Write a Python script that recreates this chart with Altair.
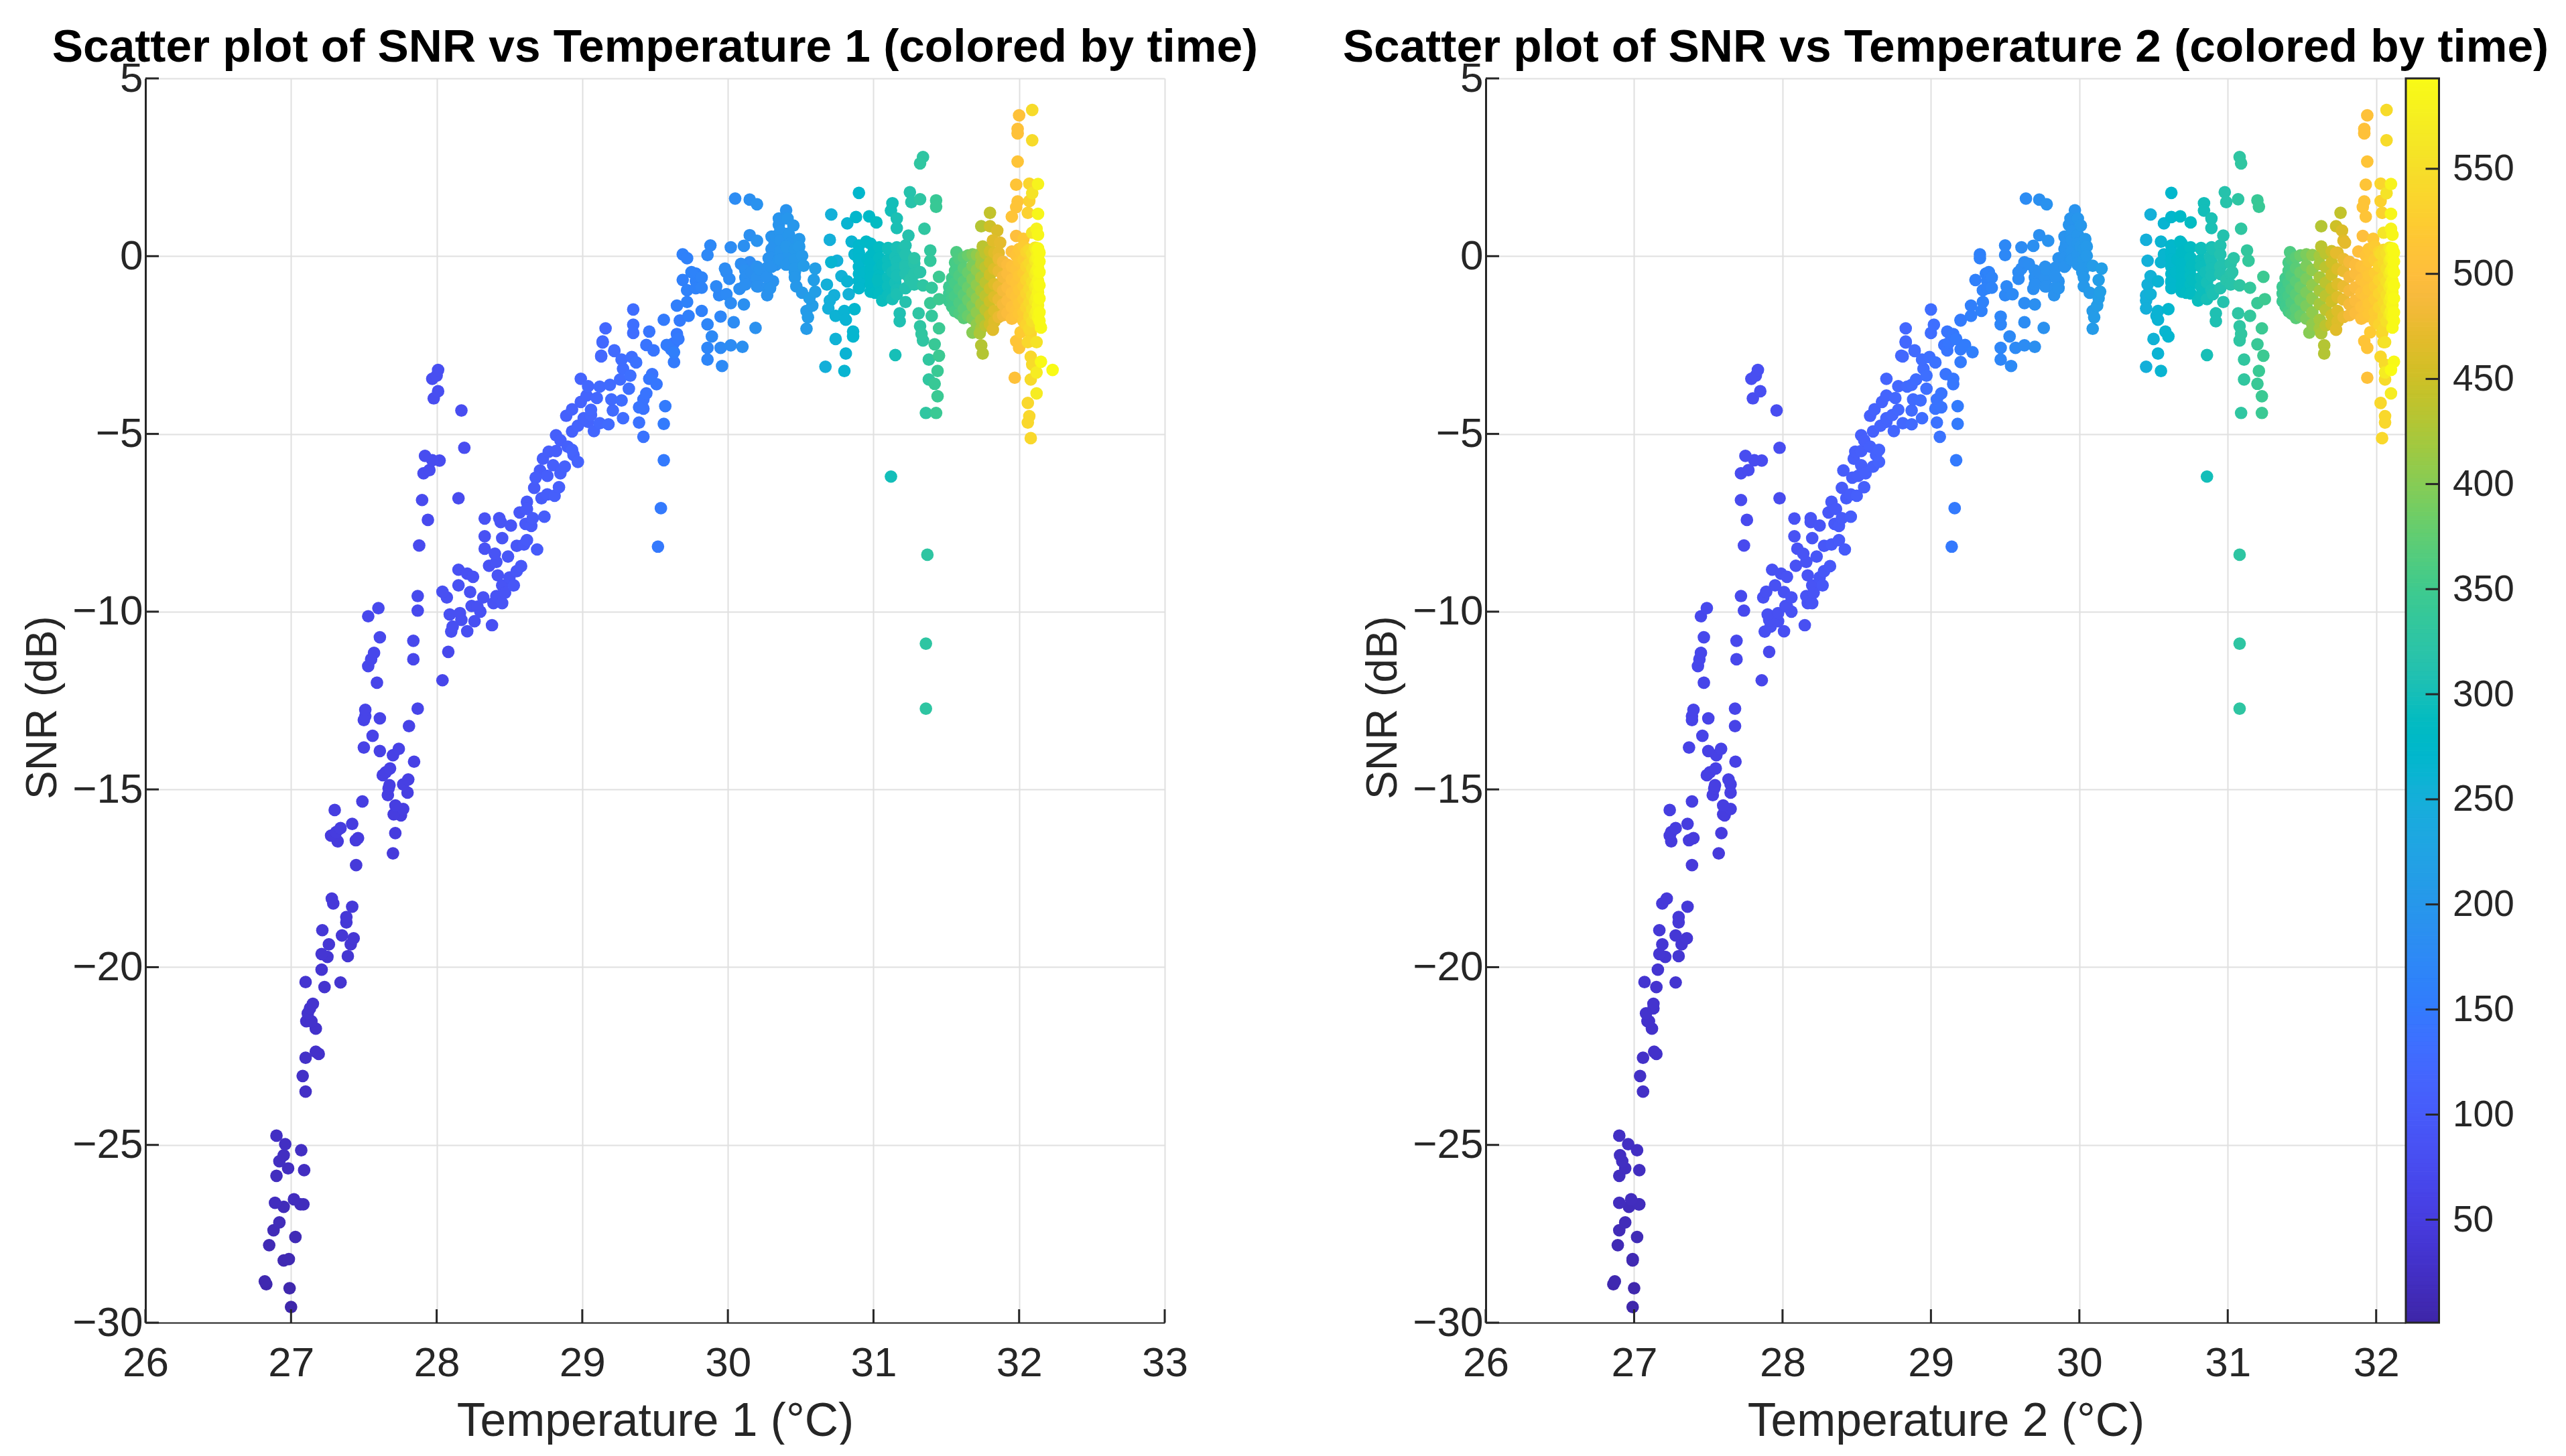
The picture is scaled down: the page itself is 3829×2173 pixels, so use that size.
import altair as alt
import pandas as pd

FONT = "Liberation Sans"
INK = "#262626"
GRID = "#e0e0e0"

parula_rgb = [(.2422,.1504,.6603),(.2504,.1650,.7076),(.2578,.1818,.7511),(.2647,.1978,.7952),(.2706,.2147,.8364),(.2751,.2342,.8710),(.2783,.2559,.8991),(.2803,.2782,.9221),(.2813,.3006,.9414),(.2810,.3228,.9579),(.2795,.3447,.9717),(.2760,.3667,.9829),(.2699,.3892,.9906),(.2602,.4123,.9952),(.2440,.4358,.9988),(.2206,.4603,.9973),(.1963,.4847,.9892),(.1834,.5074,.9798),(.1786,.5289,.9682),(.1764,.5499,.9520),(.1687,.5703,.9359),(.1540,.5902,.9218),(.1460,.6091,.9079),(.1380,.6276,.8973),(.1248,.6459,.8883),(.1113,.6635,.8763),(.0952,.6798,.8598),(.0689,.6948,.8394),(.0297,.7082,.8163),(.0036,.7203,.7917),(.0067,.7312,.7660),(.0433,.7411,.7394),(.0964,.7500,.7120),(.1408,.7584,.6842),(.1717,.7670,.6554),(.1938,.7758,.6251),(.2161,.7843,.5923),(.2470,.7918,.5567),(.2906,.7973,.5188),(.3406,.8008,.4789),(.3909,.8029,.4354),(.4456,.8024,.3909),(.5044,.7993,.3480),(.5616,.7942,.3045),(.6174,.7876,.2612),(.6720,.7793,.2227),(.7242,.7698,.1910),(.7738,.7598,.1646),(.8203,.7498,.1535),(.8634,.7406,.1596),(.9035,.7330,.1774),(.9393,.7288,.2100),(.9728,.7298,.2394),(.9956,.7434,.2371),(.9970,.7659,.2199),(.9952,.7861,.1991),(.9892,.8134,.1885),(.9786,.8386,.1766),(.9676,.8639,.1643),(.9610,.8890,.1537),(.9597,.9135,.1423),(.9628,.9373,.1265),(.9691,.9606,.1064),(.9769,.9839,.0805)]
parula = ["#%02x%02x%02x" % tuple(round(c*255) for c in rgb) for rgb in parula_rgb]

# ---- lower climb and the left-hand column
a_snr = [-29.56,-29.03,-28.92,-28.84,-28.25,-28.21,-27.82,-27.59,-27.40,-27.18,-26.74,-26.67,-26.67,-26.63,-26.53,-25.87,-25.71,-25.66,-25.46,-25.29,-25.15,-24.98,-24.74,-23.50,-23.06,-22.55,-22.44,-22.38,-21.73,-21.52,-21.52,-21.30,-21.16,-21.03,-20.56,-20.43,-20.42,-20.07,-19.71,-19.69,-19.63,-19.36,-19.36,-19.19,-19.11,-18.96,-18.74,-18.59,-18.30,-18.21,-18.07,-17.13,-16.80,-16.46,-16.43,-16.37,-16.30,-16.23,-16.20,-16.09,-15.97,-15.73,-15.70,-15.58,-15.55,-15.45,-15.34,-15.16,-15.09,-14.97,-14.88,-14.86,-14.72,-14.60,-14.52,-14.41,-14.22,-14.04,-13.92,-13.86,-13.82,-13.49,-13.22,-13.05,-13.00,-12.94,-12.76,-12.73,-12.00,-11.93,-11.53,-11.34,-11.34,-11.16,-11.13,-10.82,-10.72,-10.13,-9.97,-9.90,-9.56,-8.14,-7.42,-6.86,-6.81,-6.11,-6.02,-5.75,-5.74,-5.62,-5.39,-4.34,-4.00,-3.80,-3.45,-3.36,-3.20]
a_t1 = [27.00,26.99,26.83,26.82,26.95,26.985,26.85,27.03,26.88,26.92,26.95,27.065,27.085,26.89,27.02,26.90,27.09,26.98,26.92,26.95,27.07,26.96,26.90,27.10,27.08,27.10,27.19,27.17,27.17,27.105,27.14,27.115,27.13,27.15,27.23,27.34,27.10,27.21,27.25,27.39,27.21,27.41,27.26,27.43,27.35,27.215,27.38,27.38,27.42,27.29,27.28,27.447,27.70,27.32,27.445,27.46,27.275,27.716,27.31,27.34,27.42,27.755,27.705,27.30,27.77,27.717,27.49,27.665,27.80,27.67,27.676,27.77,27.805,27.63,27.65,27.68,27.845,27.70,27.61,27.74,27.50,27.56,27.81,27.50,27.61,27.51,27.51,27.87,27.59,28.04,27.53,27.84,27.55,27.57,28.08,27.84,27.61,27.53,27.87,27.60,27.87,27.88,27.94,27.90,28.15,27.91,27.95,28.02,27.97,27.92,28.19,28.17,27.98,28.01,27.97,28.00,28.01]
a_t2 = [26.99,27.00,26.86,26.87,26.99,26.99,26.89,27.02,26.90,26.94,26.965,27.035,27.03,26.90,26.98,26.90,27.035,26.94,26.92,26.905,27.02,26.96,26.90,27.06,27.04,27.06,27.15,27.135,27.12,27.09,27.10,27.08,27.13,27.13,27.15,27.28,27.07,27.16,27.21,27.30,27.17,27.32,27.19,27.355,27.28,27.17,27.30,27.30,27.36,27.19,27.22,27.39,27.57,27.25,27.37,27.40,27.24,27.588,27.25,27.28,27.36,27.61,27.60,27.24,27.65,27.60,27.39,27.53,27.65,27.54,27.545,27.65,27.636,27.49,27.51,27.55,27.683,27.554,27.50,27.586,27.37,27.46,27.68,27.39,27.50,27.39,27.40,27.68,27.47,27.86,27.43,27.69,27.44,27.45,27.91,27.69,27.47,27.45,27.74,27.49,27.72,27.74,27.76,27.72,27.98,27.72,27.77,27.86,27.81,27.75,27.98,27.96,27.80,27.85,27.79,27.82,27.834]
a_time = [3,5,6,7,9,10,11,12,13,14,15,16,17,18,18,19,20,20,21,21,22,22,23,25,26,27,28,28,29,30,30,31,31,32,33,34,34,35,36,36,37,37,38,38,39,40,40,41,42,43,43,44,45,46,46,47,47,48,48,49,49,50,50,51,51,52,52,53,53,54,54,55,55,56,56,57,57,58,58,59,59,60,60,61,61,62,62,63,64,65,66,66,67,67,68,68,69,69,70,70,71,72,72,73,73,74,74,75,75,76,76,77,77,78,78,79,79]

# ---- main rising branch
b_snr = [-10.55,-10.56,-10.42,-10.38,-10.27,-10.23,-10.08,-10.04,-10.00,-9.84,-9.86,-9.76,-9.76,-9.60,-9.56,-9.60,-9.44,-9.45,-9.47,-9.26,-9.26,-9.26,-9.02,-8.98,-9.04,-8.93,-8.82,-8.86,-8.72,-8.71,-8.60,-8.45,-8.37,-8.23,-8.25,-8.15,-8.11,-7.99,-7.88,-7.93,-7.59,-7.58,-7.53,-7.48,-7.37,-7.38,-7.37,-7.33,-7.21,-7.11,-6.91,-6.81,-6.74,-6.70,-6.52,-6.50,-6.18,-6.23,-6.03,-6.11,-5.92,-5.88,-5.79,-5.70,-5.50,-5.48,-5.45,-5.59,-5.36,-5.18,-5.04,-4.93,-4.92,-4.73,-4.77,-4.66,-4.70,-4.56,-4.68,-5.08,-4.72,-4.22,-5.74,-7.09,-8.17,-4.49,-4.31,-4.47,-4.56,-4.10,-4.32,-4.34,-3.92,-3.99,-4.06,-4.03,-4.29,-4.25,-4.03,-3.86,-3.73,-3.45,-3.66,-3.67,-3.62,-3.47,-3.36,-3.32,-3.45,-3.60,-3.17,-2.82,-2.43,-2.67,-2.84,-2.91,-2.99]
b_t1 = [28.21,28.10,28.11,28.38,28.26,28.17,28.09,28.16,28.30,28.24,28.28,28.39,28.45,28.32,28.41,28.07,28.04,28.23,28.47,28.15,28.53,28.45,28.25,28.42,28.50,28.21,28.15,28.55,28.58,28.36,28.41,28.49,28.40,28.33,28.69,28.55,28.60,28.62,28.33,28.45,28.65,28.51,28.61,28.44,28.43,28.33,28.66,28.74,28.57,28.62,28.62,28.72,28.81,28.76,28.67,28.84,28.76,28.68,28.71,28.85,28.88,28.80,28.97,28.73,28.77,28.82,28.93,28.94,28.90,28.85,28.82,28.93,29.08,29.18,28.97,29.04,29.12,29.28,29.39,29.42,29.56,29.57,29.56,29.54,29.52,28.89,28.93,29.06,29.01,28.99,29.06,29.21,29.03,29.10,29.27,29.20,29.42,29.39,29.42,29.44,29.32,28.99,29.04,29.12,29.19,29.26,29.33,29.48,29.46,29.51,29.28,29.13,29.14,29.22,29.34,29.27,29.37]
b_t2 = [28.01,27.88,27.92,28.15,27.97,27.91,27.90,27.97,28.06,28.02,28.03,28.17,28.20,28.06,28.16,27.87,27.89,28.01,28.21,27.95,28.27,28.20,28.03,28.17,28.25,27.99,27.93,28.28,28.32,28.09,28.16,28.23,28.14,28.10,28.42,28.28,28.33,28.38,28.08,28.20,28.38,28.25,28.35,28.19,28.19,28.08,28.40,28.46,28.31,28.36,28.33,28.43,28.50,28.46,28.40,28.55,28.51,28.47,28.41,28.56,28.61,28.53,28.65,28.48,28.49,28.53,28.65,28.63,28.59,28.55,28.53,28.61,28.75,28.87,28.66,28.70,28.81,28.94,29.04,29.06,29.18,29.18,29.17,29.16,29.14,28.59,28.62,28.74,28.70,28.67,28.78,28.87,28.70,28.76,28.93,28.88,29.03,29.07,29.04,29.07,28.97,28.70,28.78,28.84,28.87,28.90,28.97,29.10,29.15,29.15,28.95,28.81,28.83,28.89,28.99,28.94,29.03]
b_time = [80,80,81,82,81,81,81,82,84,83,84,86,88,85,87,82,82,84,89,83,92,88,85,87,91,84,83,93,95,86,88,92,88,86,100,93,96,98,86,89,98,91,96,89,89,86,99,103,94,97,96,101,106,103,99,107,105,103,101,108,110,106,113,104,105,106,113,112,109,107,106,110,119,126,113,116,122,130,137,139,150,150,149,148,147,109,111,118,116,114,120,126,116,120,130,126,138,140,138,140,132,116,120,124,126,128,132,141,144,144,130,121,122,126,133,130,137]

# ---- plateau, temperature 1 up to about 30.6
c_snr = [-1.50,-1.93,-2.16,-2.03,-2.40,-2.80,-2.65,-2.12,-1.79,-2.50,-2.65,-2.50,-2.70,0.05,-0.06,0.30,0.03,-0.45,-0.67,-0.60,-0.49,-0.89,-0.96,-0.85,-1.07,-1.10,-1.32,-1.36,-1.39,-1.29,-1.54,-1.68,-1.81,-1.92,-1.70,-1.86,-2.02,-2.26,-2.58,-2.91,-2.58,-2.51,-2.55,-3.09,-2.19,-2.44,-2.33,-2.98,-2.62,1.62,1.59,1.46,1.29,1.06,1.06,0.88,0.86,0.59,0.43,0.25,0.29,0.56,0.63,0.48,0.34,0.27,0.27,-0.06,-0.09,0.01,-0.24,-0.24,-0.22,-0.17,-0.35,-0.45,-0.64,-0.45,-0.38,-0.27,-0.35,-0.45,-0.67,-0.56,-0.71,-0.71,-0.92,-0.85,-0.90,-1.10,-0.85,-1.03,-1.00,-1.18,-1.39,-1.54,-1.72,-2.04]
c_t1 = [29.35,29.35,29.35,29.16,29.14,29.13,29.22,29.46,29.56,29.44,29.49,29.58,29.63,29.69,29.72,29.88,29.86,29.75,29.69,29.82,29.78,29.82,29.72,29.92,29.99,29.94,30.02,30.11,29.65,29.72,29.82,29.73,29.67,29.86,29.95,30.04,30.19,29.89,29.86,29.86,29.95,30.02,30.10,29.96,29.65,29.63,29.66,29.63,29.61,30.05,30.15,30.20,30.40,30.35,30.41,30.35,30.45,30.15,30.20,30.02,30.11,30.33,30.41,30.49,30.32,30.40,30.49,30.28,30.35,30.51,30.40,30.33,30.09,30.15,29.98,29.99,30.01,30.16,30.22,30.52,30.60,30.46,30.59,30.25,30.31,30.13,30.08,30.21,30.29,30.27,30.47,30.51,30.60,30.56,30.58,30.54,30.55,30.54]
c_t2 = [29.00,29.02,29.00,28.83,28.83,28.80,28.89,29.11,29.20,29.09,29.11,29.23,29.28,29.33,29.33,29.50,29.50,29.39,29.30,29.41,29.37,29.41,29.35,29.51,29.55,29.50,29.63,29.70,29.27,29.35,29.34,29.27,29.20,29.47,29.47,29.63,29.76,29.53,29.47,29.47,29.57,29.63,29.70,29.54,29.15,29.12,29.17,29.20,29.20,29.64,29.73,29.78,29.97,29.94,29.99,29.93,30.01,29.73,29.79,29.61,29.69,29.94,29.95,30.04,29.91,30.01,30.05,29.86,29.94,30.05,29.99,29.91,29.66,29.63,29.61,29.59,29.59,29.73,29.78,30.09,30.15,30.02,30.13,29.81,29.86,29.71,29.69,29.78,29.86,29.83,30.03,30.07,30.14,30.13,30.12,30.09,30.10,30.09]
c_time = [130,132,130,120,120,118,124,142,150,140,142,152,156,160,160,172,172,164,158,166,163,166,162,173,176,172,180,186,156,162,161,156,150,168,168,180,188,174,168,168,176,180,186,175,146,143,148,150,150,180,186,190,192,194,196,193,198,186,190,179,185,194,195,200,192,198,202,190,194,202,196,192,182,180,179,177,177,186,190,207,214,200,212,188,190,184,183,189,192,191,201,205,213,212,211,208,209,208]

# ---- temperature 1 from about 30.7 to 31.45
d_snr = [1.17,1.78,0.92,1.10,1.12,0.95,1.49,1.28,1.06,0.79,0.58,1.80,1.52,1.60,1.57,1.39,0.77,2.79,2.61,0.46,0.41,0.41,0.23,0.19,0.16,-0.13,-0.06,-0.13,-0.17,0.05,0.12,-0.02,-0.09,-0.24,-0.24,-0.45,-0.45,-0.45,-0.58,-0.56,-0.71,-0.80,-0.74,-0.67,-0.74,-0.67,-0.82,-0.89,-1.03,-1.07,-1.10,-1.25,-1.21,-1.07,-1.29,-1.21,-1.32,-1.25,-1.47,-1.49,-1.54,-1.68,-1.79,-1.61,-1.83,-1.61,-1.68,-1.97,-2.03,-2.19,-2.37,-2.12,-2.26,-2.33,-2.74,-3.11,-3.23,-2.78,-2.48,-2.80,-2.91,-3.23,-3.47,-3.59,-3.94,-4.41,-4.41,-6.20,-8.40,-10.90,-12.73]
d_t1 = [30.71,30.90,30.82,30.88,30.97,31.02,31.13,31.12,31.16,31.16,31.24,31.25,31.26,31.32,31.43,31.43,31.35,31.34,31.32,30.70,30.85,30.95,31.10,31.20,31.39,31.39,31.28,30.75,30.71,30.87,31.00,31.15,30.96,31.06,31.22,31.32,30.94,31.13,31.45,30.78,30.82,30.68,30.92,31.03,31.15,31.25,31.34,31.40,31.01,30.83,30.73,31.06,31.13,31.16,31.22,31.45,31.39,30.70,30.69,30.87,30.80,30.74,30.81,31.18,31.18,31.31,31.40,31.32,31.45,31.33,31.34,30.86,30.86,30.74,30.81,30.67,30.80,31.15,31.42,31.45,31.38,31.44,31.38,31.42,31.44,31.36,31.43,31.12,31.37,31.36,31.36]
d_t2 = [30.48,30.62,30.57,30.62,30.68,30.75,30.84,30.84,30.89,30.89,30.97,30.98,30.99,31.07,31.20,31.21,31.09,31.08,31.09,30.45,30.55,30.68,30.82,30.90,31.13,31.14,31.04,30.46,30.55,30.57,30.69,30.88,30.66,30.76,30.96,31.03,30.65,30.85,31.24,30.48,30.53,30.46,30.62,30.76,30.86,30.99,31.08,31.15,30.72,30.48,30.45,30.80,30.86,30.90,30.97,31.25,31.20,30.45,30.45,30.60,30.53,30.52,30.53,30.92,30.92,31.07,31.15,31.08,31.23,31.09,31.08,30.58,30.60,30.50,30.53,30.45,30.55,30.86,31.20,31.24,31.11,31.21,31.11,31.20,31.23,31.09,31.23,30.86,31.08,31.08,31.08]
d_time = [252,270,262,270,278,285,298,298,304,304,312,314,316,325,340,341,328,327,328,250,262,278,295,305,332,333,320,252,262,265,280,302,275,287,310,318,273,298,345,254,260,252,270,287,300,316,326,334,282,254,250,292,300,305,312,346,340,250,250,268,260,258,260,307,307,324,334,326,344,328,327,264,266,256,260,250,262,300,340,345,330,342,330,340,344,328,343,298,326,326,326]

# ---- colour-smeared columns near the end of the run, and the denser plateau blobs
e_t1 = [29.78,30.12,30.20,30.27,30.30,30.36,30.42,30.46,30.90,30.98,31.04,31.10,31.16,31.22,31.28,31.52,31.54,31.56,31.59,31.62,31.65,31.68,31.71,31.74,31.77,31.80,31.83,31.86,31.89,31.92,31.95,31.98,32.00,32.03,32.05,32.07,32.09,32.11,32.12,32.13,32.14]
e_t2 = [29.38,29.70,29.77,29.84,29.90,29.95,29.99,30.03,30.62,30.69,30.75,30.82,30.89,30.95,31.02,31.37,31.39,31.41,31.43,31.46,31.49,31.53,31.57,31.62,31.66,31.70,31.74,31.78,31.82,31.86,31.90,31.93,31.95,31.99,32.02,32.05,32.07,32.09,32.10,32.11,32.12]
e_time = [163,185,188,190,192,195,197,200,270,278,285,293,302,310,316,345,350,355,362,370,380,392,405,420,435,450,462,475,486,495,502,508,514,522,532,542,552,565,575,583,590]
e_snr = [
    [-0.50,-0.70,-0.90],
    [-0.40,-0.60,-0.80],
    [-0.30,-0.60,-0.85],
    [-0.32,-0.58,-0.88],
    [0.55,0.20,-0.05,-0.30],
    [0.70,0.45,0.15,-0.10],
    [0.60,0.35,0.05,-0.20],
    [0.20,-0.10,-0.35,-0.60],
    [0.30,0.10,-0.10,-0.30,-0.50,-0.70,-0.90],
    [0.35,0.00,-0.20,-0.40,-0.60,-0.80,-1.00],
    [0.25,-0.05,-0.35,-0.55,-0.80,-1.05],
    [0.20,-0.10,-0.30,-0.60,-0.85,-1.10],
    [0.25,-0.15,-0.35,-0.55,-0.95],
    [0.30,0.05,-0.30,-0.50,-0.90],
    [-0.20,-0.50,-0.80],
    [-0.86,-1.05,-1.27],
    [-0.62,-0.98,-1.18,-1.42],
    [-0.18,-0.41,-0.76,-1.12,-1.55],
    [-0.08,-0.55,-0.93,-1.31,-1.62],
    [-0.03,-0.34,-0.71,-1.08,-1.49,-1.74],
    [0.02,-0.46,-0.88,-1.23,-1.68],
    [0.05,-0.27,-0.64,-1.02,-1.40,-1.76],
    [0.03,-0.39,-0.81,-1.19,-1.58,-1.92],
    [0.01,-0.22,-0.60,-0.97,-1.35,-1.79,-2.03],
    [0.08,-0.31,-0.74,-1.12,-1.51,-1.95],
    [0.14,-0.18,-0.52,-0.91,-1.27,-1.66,-1.92],
    [0.10,-0.36,-0.79,-1.15,-1.54,-1.84],
    [-0.08,-0.42,-0.85,-1.22,-1.71],
    [-0.16,-0.58,-0.97,-1.36,-1.66],
    [-0.24,-0.49,-0.88,-1.25,-1.60],
    [-0.29,-0.66,-1.04,-1.43,-1.76],
    [0.02,-0.37,-0.75,-1.14,-1.52,-1.70],
    [0.20,-0.15,-0.55,-0.95,-1.33,-1.62],
    [0.28,-0.10,-0.48,-0.84,-1.21,-1.58,-1.83],
    [0.12,-0.29,-0.67,-1.05,-1.44,-1.92],
    [0.18,-0.20,-0.58,-0.92,-1.31,-1.69,-2.05],
    [0.08,-0.35,-0.72,-1.10,-1.49,-1.83],
    [0.24,-0.12,-0.50,-0.87,-1.26,-1.64],
    [0.16,-0.05,-0.41,-0.78,-1.15,-1.55],
    [0.20,-0.03,-0.33,-0.69,-1.02,-1.38,-1.72],
    [0.10,-0.15,-0.45,-0.82,-1.19,-1.58,-1.82],
]

# ---- scattered fringe around the smear
f_snr = [0.11,1.22,0.84,0.84,0.72,0.44,0.38,0.27,0.09,3.96,3.58,3.45,4.11,3.26,2.66,2.01,2.04,2.03,1.77,1.54,1.38,1.11,1.55,1.22,1.19,0.77,0.60,0.66,0.57,0.49,0.13,0.13,0.22,0.06,-2.15,-2.51,-2.74,-2.17,-2.07,-2.14,-2.39,-2.58,-3.42,-2.83,-3.05,-2.97,-3.20,-3.27,-3.47,-3.86,-4.13,-4.50,-4.68,-5.12,-2.42,-2.42,-2.17,-2.01]
f_t1 = [31.57,31.80,31.74,31.80,31.85,31.82,31.87,31.75,31.86,32.00,31.99,31.99,32.09,32.09,31.99,31.98,32.07,32.13,32.09,31.99,31.98,31.95,32.07,32.06,32.13,32.12,32.13,32.09,31.98,32.03,31.95,32.01,32.13,32.09,31.68,31.74,31.75,31.73,31.82,32.01,31.98,32.00,31.97,32.08,32.09,32.15,32.23,32.12,32.08,32.12,32.06,32.07,32.06,32.08,32.12,32.06,32.08,32.15]
f_t2 = [31.42,31.76,31.63,31.73,31.77,31.78,31.79,31.63,31.73,31.94,31.92,31.92,32.07,32.07,31.94,31.93,32.03,32.10,32.07,31.92,31.91,31.93,32.03,32.04,32.10,32.10,32.11,32.05,31.91,31.98,31.88,31.96,32.11,32.03,31.55,31.65,31.65,31.63,31.73,31.96,31.92,31.94,31.94,32.03,32.06,32.12,32.10,32.06,32.06,32.10,32.03,32.06,32.06,32.04,32.06,32.05,32.04,32.11]
f_time = [360,440,430,450,460,465,470,435,470,505,505,505,545,545,510,510,535,580,555,510,510,510,530,530,585,580,585,560,500,515,500,515,590,545,400,430,430,425,465,520,510,510,505,540,545,590,593,570,545,570,540,540,540,540,555,540,535,590]

# ---- axis and colour-bar ticks
x1_ticks = [26,27,28,29,30,31,32,33]
x2_ticks = [26,27,28,29,30,31,32]
y_ticks = [-30,-25,-20,-15,-10,-5,0,5]
bar_ticks = [50,100,150,200,250,300,350,400,450,500,550]
bar_steps = list(range(1, 593, 2))
TIME_DOMAIN = [1, 593]
Y_DOMAIN = [-30, 5]
HEIGHT = 1857
W1, W2 = 1521, 1373
BAR_W = 49.5

rows = []
for S, T1, T2, TM in [(a_snr,a_t1,a_t2,a_time),(b_snr,b_t1,b_t2,b_time),(c_snr,c_t1,c_t2,c_time),(d_snr,d_t1,d_t2,d_time),(f_snr,f_t1,f_t2,f_time)]:
    assert len(S)==len(T1)==len(T2)==len(TM), (len(S),len(T1),len(T2),len(TM))
    rows += [dict(snr=s,t1=x,t2=y,time=t) for s,x,y,t in zip(S,T1,T2,TM)]
for x,y,t,col in zip(e_t1,e_t2,e_time,e_snr):
    rows += [dict(snr=s,t1=x,t2=y,time=t) for s in col]
data = pd.DataFrame(rows).sort_values("time", kind="stable").reset_index(drop=True)

color_scale = alt.Scale(domain=TIME_DOMAIN, range=parula)
y_scale = alt.Scale(domain=Y_DOMAIN, nice=False)

def panel(field, x_title, title, width, x_domain, x_ticks, colorbar=False):
    x_scale = alt.Scale(domain=x_domain, nice=False)
    x_axis = alt.Axis(
        values=x_ticks, title=x_title, format="d", grid=True, gridColor=GRID, gridWidth=2,
        ticks=False, domainColor=INK, domainWidth=2, labelFont=FONT, labelFontSize=62,
        labelColor=INK, labelPadding=30, titleFont=FONT, titleFontSize=69.6, titleFontWeight="normal",
        titleColor=INK, titlePadding=22, labelFlush=False, labelOverlap=False)
    pts = alt.Chart(data).mark_circle(size=350, opacity=1).encode(
        x=alt.X(f"{field}:Q", scale=x_scale, axis=x_axis),
        y=alt.Y("snr:Q", scale=y_scale, axis=alt.Axis(
            values=y_ticks, title="SNR (dB)", format="d", grid=True, gridColor=GRID, gridWidth=2,
            ticks=False, domainColor=INK, domainWidth=3, labelFont=FONT, labelFontSize=62,
            labelColor=INK, labelPadding=4, titleFont=FONT, titleFontSize=64, titleFontWeight="normal",
            labelExpr="datum.value >= 0 ? datum.label + '\u00a0' : datum.label", titleY=HEIGHT/2+10,
            titleColor=INK, titlePadding=11, labelFlush=False, labelOverlap=False)),
        color=alt.Color("time:Q", scale=color_scale, legend=None),
    )
    xt = alt.Chart(pd.DataFrame({"v": x_ticks})).mark_rule(color=INK, strokeWidth=3).encode(
        x=alt.X("v:Q", scale=x_scale, axis=x_axis), y=alt.value(HEIGHT), y2=alt.value(HEIGHT-20))
    yt = alt.Chart(pd.DataFrame({"v": y_ticks})).mark_rule(color=INK, strokeWidth=3).encode(
        y=alt.Y("v:Q", scale=y_scale, axis=None), x=alt.value(0), x2=alt.value(20))
    layers = [pts, xt, yt]
    if colorbar:
        t_scale = alt.Scale(domain=TIME_DOMAIN, nice=False)
        bar = pd.DataFrame({"time": bar_steps, "hi": [s+2 for s in bar_steps]})
        rects = alt.Chart(bar).mark_rect(strokeWidth=1).encode(
            y=alt.Y("time:Q", scale=t_scale, axis=alt.Axis(
                orient="right", values=bar_ticks, title=None, format="d", grid=False, ticks=False,
                domain=False, offset=BAR_W, labelFont=FONT, labelFontSize=55, labelColor=INK,
                labelPadding=20, labelOverlap=False)),
            y2="hi:Q", x=alt.value(width), x2=alt.value(width+BAR_W),
            color=alt.Color("time:Q", scale=color_scale, legend=None),
            stroke=alt.Stroke("time:Q", scale=color_scale, legend=None),
        )
        bt = alt.Chart(pd.DataFrame({"v": bar_ticks})).mark_rule(color=INK, strokeWidth=3).encode(
            y=alt.Y("v:Q", scale=t_scale, axis=None), x=alt.value(width+BAR_W-20), x2=alt.value(width+BAR_W))
        frame = alt.Chart(pd.DataFrame({"v": [0]})).mark_rect(fillOpacity=0, stroke=INK, strokeWidth=3).encode(
            x=alt.value(width), x2=alt.value(width+BAR_W), y=alt.value(0), y2=alt.value(HEIGHT))
        layers += [rects, bt, frame]
    return alt.layer(*layers).resolve_scale(y="independent").properties(
        width=width, height=HEIGHT,
        title=alt.TitleParams(text=title, anchor="middle", font=FONT, fontSize=69.4, fontWeight="bold", color="black", offset=-20),
    )

left = panel("t1", "Temperature 1 (°C)", "Scatter plot of SNR vs Temperature 1 (colored by time)", W1, [26,33], x1_ticks)
right = panel("t2", "Temperature 2 (°C)", "Scatter plot of SNR vs Temperature 2 (colored by time)", W2, [26,32.2], x2_ticks, colorbar=True)

chart = alt.hconcat(left, right, spacing=479, bounds="flush").properties(
    padding={"left": 24, "top": 27, "right": 0, "bottom": 0}, background="white"
).configure_view(stroke=None)

chart.save("out.html", embed_options={"renderer": "svg", "actions": False})
